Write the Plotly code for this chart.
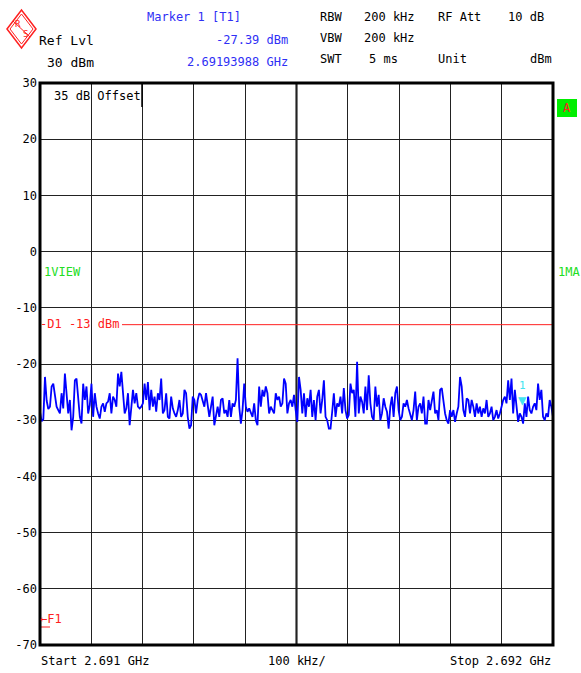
import numpy as np
import plotly.graph_objects as go

# ---------------- data ----------------
start_ghz = 2.691
stop_ghz = 2.692
trace_seg1 = [-28.5, -30.2, -29.8, -22.3, -26.5, -28.0, -27.6, -24.0, -23.5, -25.2, -27.6, -28.2, -28.8, -25.2, -27.9, -21.7,
              -25.8, -28.8, -26.4, -31.8, -29.4, -22.9, -22.6, -25.8, -29.4, -30.6, -23.5, -26.4, -24.0, -28.8, -27.3, -23.5,
              -29.4, -25.2, -27.6, -28.8, -29.7, -27.6, -27.0, -28.5, -27.0, -26.7, -25.2, -28.8, -25.8, -26.4, -27.6, -21.7,
              -24.0, -21.4, -25.8, -28.8, -27.9, -25.2, -30.9, -28.2, -24.6, -27.0, -25.2, -27.6, -27.9, -27.6, -27.0, -23.5,
              -26.4, -23.2, -28.2, -24.6, -27.6, -25.8, -28.5, -25.2, -26.4, -22.6, -28.8, -28.2, -25.2, -29.4, -29.7, -25.8]
trace_seg2 = [-27.9, -28.8, -29.4, -28.2, -26.4, -29.4, -28.8, -24.6, -25.2, -29.4, -31.5, -30.9, -25.8, -26.4, -28.8, -26.4,
              -25.2, -25.5, -26.4, -27.6, -25.2, -27.6, -29.4, -27.6, -25.8, -30.9, -28.8, -27.6, -29.4, -26.4, -26.1, -28.8,
              -28.2, -29.4, -26.4, -29.4, -27.0, -27.6, -26.4, -19.0, -27.6, -30.6, -28.2, -23.5, -27.6, -28.5, -27.9, -28.8,
              -29.4, -27.0, -30.0, -30.9, -24.0, -27.6, -24.6, -25.8, -24.0, -25.2, -28.8, -27.6, -28.2, -28.8, -25.2, -26.4,
              -25.8, -27.6, -27.0, -22.6, -23.5, -28.8, -27.0, -26.4, -27.6, -25.5, -28.2, -30.3, -22.3, -24.6]
trace_seg3 = [-28.8, -25.2, -29.4, -26.1, -27.6, -24.6, -29.4, -26.4, -30.0, -25.8, -24.6, -28.8, -26.4, -22.9, -29.4, -30.0,
              -31.5, -31.5, -28.5, -25.2, -29.4, -27.0, -27.6, -25.8, -28.8, -24.3, -28.2, -29.7, -29.1, -23.5, -25.2, -24.6,
              -29.4, -19.6, -28.8, -25.8, -26.7, -28.8, -24.0, -28.2, -22.0, -27.0, -29.4, -30.0, -24.0, -27.6, -25.5, -30.0,
              -28.8, -26.1, -27.6, -28.5, -31.5, -27.6, -25.8, -29.4, -25.2, -24.0, -28.2, -30.0, -29.4, -27.0, -27.6, -26.4,
              -27.9, -28.8, -30.0, -28.2, -24.9, -30.0, -27.6, -27.0, -28.8, -25.8, -30.6, -30.6, -26.4, -28.2]
trace_seg4 = [-26.4, -24.9, -28.8, -28.2, -30.0, -24.6, -24.3, -27.0, -28.8, -30.0, -30.6, -28.2, -29.4, -28.2, -30.3, -28.8,
              -27.6, -22.3, -24.0, -28.2, -29.4, -26.1, -26.4, -28.8, -26.4, -27.6, -29.4, -27.0, -28.8, -27.6, -29.4, -27.9,
              -28.8, -26.4, -29.4, -28.8, -27.6, -30.0, -29.4, -28.2, -29.7, -28.8, -27.6, -26.4, -25.8, -27.0, -22.9, -26.4,
              -22.6, -28.8, -24.6, -27.6, -30.3, -28.8, -29.4, -30.6, -27.0, -29.4, -25.8, -28.2, -28.8, -27.6, -27.0, -28.2,
              -23.5, -26.4, -24.6, -29.4, -30.0, -28.8, -29.4, -26.4, -27.6, -29.4]
level_dbm = trace_seg1 + trace_seg2 + trace_seg3 + trace_seg4
freq_ghz = np.linspace(start_ghz, stop_ghz, len(level_dbm))

marker_freq = 2.69193988
marker_level = -27.39
display_line = -13
y_ticks = [30, 20, 10, 0, -10, -20, -30, -40, -50, -60, -70]

# ---------------- layout helpers ----------------
W, H = 581, 673
L, T, R, B = 40, 83, 553, 645
MONO = "DejaVu Sans Mono"


def px(x):
    return (x - L) / (R - L)


def py(y):
    return (B - y) / (B - T)


fig = go.Figure()
fig.add_trace(go.Scatter(x=freq_ghz, y=level_dbm, mode="lines",
                         line=dict(color="#0000ff", width=1.8), hoverinfo="skip", showlegend=False))

ann = []


def text(t, x, y, color="black", anchor="left", size=12):
    ann.append(dict(text=t, xref="paper", yref="paper", x=px(x), y=py(y), xanchor=anchor, yanchor="middle",
                    showarrow=False, font=dict(family=MONO, size=size, color=color)))


BLUE = "#2f2ff5"
text("Marker 1 [T1]", 145, 17, BLUE)
text("Ref Lvl", 37, 40, "black", size=13)
text("-27.39 dBm", 290, 40, BLUE, "right")
text("30 dBm", 45, 62, "black", size=13)
text("2.69193988 GHz", 290, 62, BLUE, "right")
text("RBW", 318, 17)
text("200 kHz", 362, 17)
text("RF Att", 436, 17)
text("10 dB", 546, 17, anchor="right")
text("VBW", 318, 38)
text("200 kHz", 362, 38)
text("SWT", 318, 59)
text("5 ms", 400, 59, anchor="right")
text("Unit", 436, 59)
text("dBm", 554, 59, anchor="right")
text("35 dB Offset", 52, 96)
text("1VIEW", 42, 272, "#22dd22")
text("1MA", 556, 272, "#22dd22")
text("A", 567, 108, "#ff2020", "center")
text("-D1 -13 dBm", 38, 324, "#ff2020")
text("\u2190F1", 38, 619, "#ff2020")
text("Start 2.691 GHz", 39, 661)
text("100 kHz/", 297, 661, anchor="center")
text("Stop 2.692 GHz", 553, 661, anchor="right")

# marker symbol
ann.append(dict(text="1", x=marker_freq, y=marker_level, xref="x", yref="y", showarrow=False,
                yanchor="bottom", yshift=12, font=dict(family=MONO, size=11, color="#44e4f0")))
ann.append(dict(text="\u25bc", x=marker_freq, y=marker_level, xref="x", yref="y", showarrow=False,
                yanchor="bottom", yshift=-4, font=dict(family=MONO, size=14, color="#44e4f0")))

shapes = [
    # display line D1
    dict(type="line", xref="paper", yref="y", x0=px(122), x1=1, y0=display_line, y1=display_line,
         line=dict(color="#ff2020", width=1)),
    # F1 underline
    dict(type="line", xref="paper", yref="paper", x0=px(40), x1=px(50), y0=py(627), y1=py(627),
         line=dict(color="#ff2020", width=1)),
    # centre vertical line
    dict(type="line", xref="x", yref="paper", x0=(start_ghz + stop_ghz) / 2, x1=(start_ghz + stop_ghz) / 2,
         y0=0, y1=1, line=dict(color="black", width=2), layer="below"),
    # offset box edge
    dict(type="line", xref="paper", yref="paper", x0=px(142), x1=px(142), y0=1, y1=py(107),
         line=dict(color="black", width=1.5)),
    # trace indicator box 'A'
    dict(type="rect", xref="paper", yref="paper", x0=px(557), x1=px(577), y0=py(117), y1=py(99),
         fillcolor="#00ee00", line=dict(width=0), layer="below"),
    # frame
    dict(type="rect", xref="paper", yref="paper", x0=0, x1=1, y0=0, y1=1,
         line=dict(color="black", width=3)),
    # R&S logo
    dict(type="path", xref="paper", yref="paper", path=(
        f"M {px(7)},{py(29)} L {px(21.5)},{py(10)} L {px(36)},{py(29)} L {px(21.5)},{py(48)} Z"),
        line=dict(color="#ff2020", width=1.5)),
    dict(type="path", xref="paper", yref="paper", path=(
        f"M {px(10)},{py(29)} L {px(21.5)},{py(14)} L {px(33)},{py(29)} L {px(21.5)},{py(44)} Z"),
        line=dict(color="#ff2020", width=1)),
    dict(type="line", xref="paper", yref="paper", x0=px(13), x1=px(30), y0=py(21), y1=py(37),
         line=dict(color="#ff2020", width=1)),
]
ann.append(dict(text="R", xref="paper", yref="paper", x=px(18), y=py(24), xanchor="center", yanchor="middle",
                showarrow=False, font=dict(family=MONO, size=9, color="#ff2020")))
ann.append(dict(text="S", xref="paper", yref="paper", x=px(25), y=py(34), xanchor="center", yanchor="middle",
                showarrow=False, font=dict(family=MONO, size=9, color="#ff2020")))

fig.update_layout(
    width=W, height=H,
    margin=dict(l=L, r=W - R, t=T, b=H - B, pad=0),
    paper_bgcolor="white", plot_bgcolor="white",
    annotations=ann, shapes=shapes, showlegend=False,
    xaxis=dict(range=[start_ghz, stop_ghz], tick0=start_ghz, dtick=(stop_ghz - start_ghz) / 10,
               showticklabels=False, showgrid=True, gridcolor="#222222", gridwidth=1,
               zeroline=False, ticks="", showline=False, fixedrange=True),
    yaxis=dict(range=[-70, 30], tickvals=y_ticks, ticktext=[str(v) for v in y_ticks],
               showgrid=True, gridcolor="#222222", gridwidth=1, zeroline=False, ticks="",
               tickfont=dict(family=MONO, size=12, color="black"), ticklabelstandoff=2,
               showline=False, fixedrange=True),
)

fig.write_html("out.html", config={"displayModeBar": False},
               post_script="document.body.style.margin='0';document.body.style.overflow='hidden';")
